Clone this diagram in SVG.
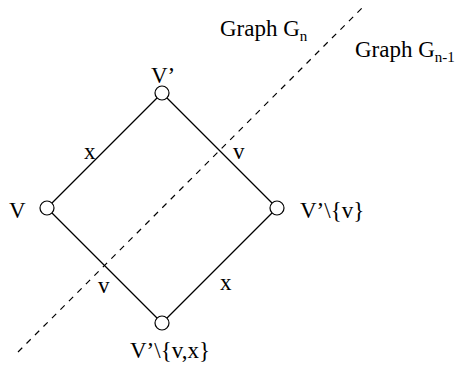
<svg xmlns="http://www.w3.org/2000/svg" width="456" height="366" viewBox="0 0 456 366">
<style>
text{font-family:"Liberation Serif","Times New Roman",serif;font-size:23px;fill:#000}
.sub{font-size:15px}
.node{fill:#fff;stroke:#000;stroke-width:1.2}
.edge{stroke:#000;stroke-width:1.2;fill:none}
.cut{stroke:#000;stroke-width:1.2;stroke-dasharray:6,6;fill:none}
</style>
<rect width="456" height="366" fill="#fff"/>
<g id="connectors">
<line class="edge" x1="162" y1="93" x2="47" y2="208"/>
<line class="edge" x1="162" y1="93" x2="277" y2="208"/>
<line class="edge" x1="47" y1="208" x2="162" y2="323"/>
<line class="edge" x1="277" y1="208" x2="162" y2="323"/>
<line class="cut" x1="18" y1="352" x2="364" y2="6"/>
<text x="84" y="159">x</text>
<text x="233" y="159">v</text>
<text x="98" y="293">v</text>
<text x="220" y="290">x</text>
</g>
<g id="node-top"><circle class="node" cx="162" cy="93" r="7"/><text x="151" y="83">V’</text></g>
<g id="node-left"><circle class="node" cx="47" cy="208" r="7"/><text x="9" y="218">V</text></g>
<g id="node-right"><circle class="node" cx="277" cy="208" r="7"/><text x="300" y="218">V’\{v}</text></g>
<g id="node-bottom"><circle class="node" cx="162" cy="323" r="7"/><text x="130" y="358">V’\{v,x}</text></g>
<g id="labels">
<text x="220" y="36">Graph G<tspan class="sub" dy="5">n</tspan></text>
<text x="355" y="57">Graph G<tspan class="sub" dy="5">n-1</tspan></text>
</g>
</svg>
